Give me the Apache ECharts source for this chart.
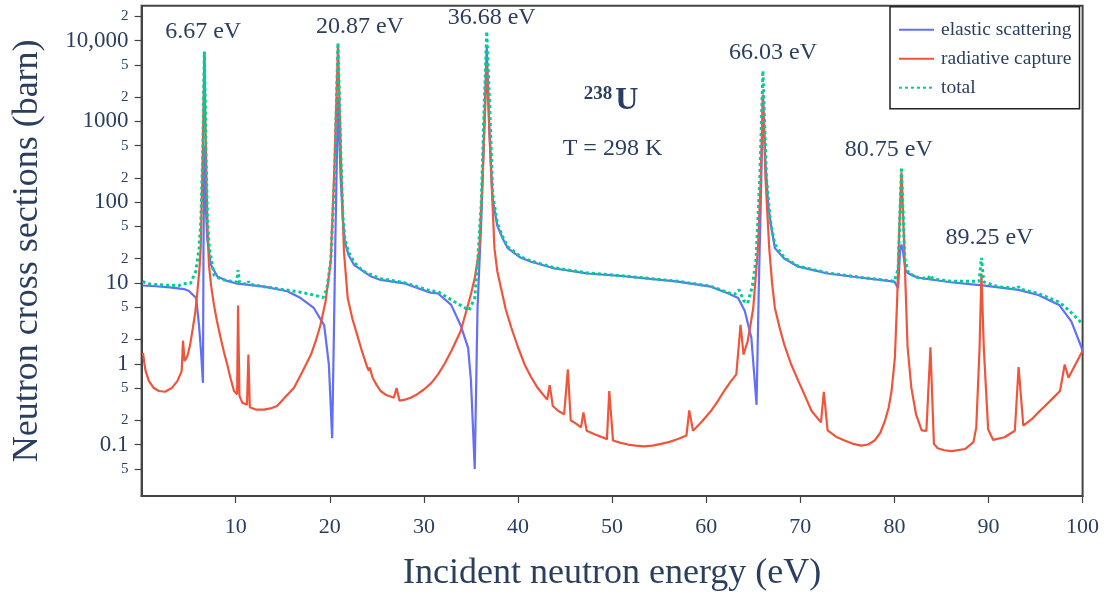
<!DOCTYPE html>
<html><head><meta charset="utf-8">
<script src="https://cdn.jsdelivr.net/npm/echarts@6/dist/echarts.min.js"></script>
<style>html,body{margin:0;padding:0;background:#fff}#c{width:1105px;height:597px}</style>
</head><body><div id="c"></div>
<script>
// ---- data (energies in eV, cross sections in barn) ----
const elasticE = [0.1,1.5,3.0,4.5,5.0,5.3,5.8,6.1,6.3,6.52,6.58,6.67,6.8,6.98,7.34,8.05,9.0,10.0,13.0,15.5,16.9,18.3,19.4,19.9,20.25,20.45,20.6,20.87,21.15,21.4,21.6,22.0,22.6,24.4,25.4,27.9,30.7,31.5,32.9,33.9,34.7,35.0,35.4,35.7,36.1,36.4,36.68,36.95,37.3,37.8,38.4,38.9,39.3,40.3,41.4,43.9,47.4,51.0,57.0,60.5,62.3,63.4,64.1,64.8,65.1,65.35,65.6,65.8,66.03,66.3,66.6,66.9,67.3,68.3,69.8,72.9,76.5,80.0,80.4,80.6,80.75,80.9,81.2,81.5,82.5,86.0,89.6,93.2,95.3,97.5,98.8,99.9,100.0];
const elasticXS = [9.3,9.1,8.8,8.4,8.0,7.4,6.5,3.0,1.5,0.58,30,500,100,35,17,12,10.7,9.9,9.0,7.9,6.5,4.9,3.0,0.98,0.12,3,40,2000,200,60,32,22,16.6,12.0,10.9,9.9,7.6,7.4,5.35,3.0,1.57,0.62,0.05,5,60,800,8300,800,110,51,35,27,25,20.5,18.3,15.1,13.1,12.2,10.4,9.0,7.45,6.5,4.5,2.1,0.74,0.31,10,100,2100,300,90,51,27,20,15.9,13.1,11.6,10.4,8.6,25,30,25,14,13.1,11.6,10.2,9.26,8.2,7.1,5.35,3.34,1.57,1.35];

const captureE = [0.15,0.3,0.43,0.78,1.3,1.84,2.5,3.2,3.8,4.26,4.4,4.57,4.86,5.15,5.39,5.7,5.93,6.15,6.28,6.5,6.67,6.85,7.0,7.16,7.4,7.69,8.0,8.4,8.75,9.1,9.45,9.82,10.15,10.25,10.4,10.7,11.2,11.35,11.5,12.2,13.0,13.7,14.4,15.3,16.2,17.1,18.0,18.5,19.0,19.55,19.75,20.1,20.5,20.87,21.2,21.5,21.9,22.4,22.9,23.4,24.0,24.15,24.25,24.55,25.0,25.4,26.0,26.8,27.1,27.4,28.0,28.6,29.3,30.0,30.8,31.5,32.2,32.9,33.4,33.9,34.6,35.0,35.4,35.9,36.3,36.68,37.1,37.5,37.8,38.2,38.7,39.3,40.0,40.7,41.4,42.1,43.1,43.37,43.7,44.3,44.9,45.3,45.6,46.2,46.7,46.95,47.3,48.2,49.2,49.45,49.7,50.1,50.9,51.7,52.5,53.4,54.3,55.2,56.1,57.0,57.9,58.2,58.6,59.5,60.5,61.2,61.9,62.6,63.2,63.65,63.97,64.4,64.7,65.0,65.5,65.8,66.03,66.3,66.7,67.0,67.3,67.8,68.3,69.0,69.8,70.5,71.2,72.2,72.5,72.9,73.8,74.7,75.6,76.5,77.2,77.9,78.5,79.0,79.4,79.7,80.05,80.3,80.5,80.75,81.0,81.2,81.4,81.8,82.3,82.9,83.4,83.83,84.2,84.6,85.3,86.1,87.5,88.4,88.7,89.05,89.25,89.5,89.96,90.5,91.7,92.8,93.2,93.7,94.6,95.3,96.0,96.8,97.6,98.1,98.5,100.0];
const captureXS = [1.36,1.0,0.81,0.61,0.5,0.46,0.45,0.5,0.61,0.81,1.93,1.08,1.24,1.7,2.52,4.3,7.8,15,26.6,400,7000,300,50,16.6,9,5.35,3.4,2.08,1.4,0.98,0.66,0.46,0.42,5.25,0.40,0.33,0.31,1.30,0.29,0.27,0.27,0.28,0.30,0.39,0.505,0.8,1.3,1.9,3.0,5.9,5.9,18.3,300,8500,300,25,6.5,3.6,2.29,1.45,0.89,0.82,0.9,0.67,0.54,0.46,0.41,0.38,0.50,0.35,0.36,0.38,0.42,0.48,0.58,0.74,1.0,1.43,1.9,2.52,4.9,7.3,11.4,26.6,300,5300,300,26.6,14,8.6,4.7,2.77,1.6,0.98,0.68,0.50,0.36,0.545,0.30,0.26,0.237,0.85,0.20,0.18,0.163,0.25,0.148,0.133,0.12,0.116,0.46,0.112,0.105,0.100,0.097,0.095,0.097,0.102,0.108,0.117,0.129,0.265,0.148,0.19,0.26,0.34,0.46,0.6,0.74,3.04,1.30,1.90,3.0,4.9,26.6,200,2150,200,26.6,10,4.9,2.8,1.72,1.0,0.61,0.4,0.26,0.188,0.45,0.15,0.125,0.112,0.102,0.097,0.1,0.112,0.14,0.197,0.29,0.46,1.18,6.5,40,235,40,8,1.6,0.505,0.237,0.15,0.148,1.6,0.102,0.09,0.085,0.083,0.088,0.107,0.163,1.57,13.1,1.57,0.155,0.114,0.123,0.148,0.91,0.171,0.206,0.25,0.30,0.37,0.46,0.98,0.67,1.45];

const totalE = [0.1,1.0,2.5,4.0,4.4,4.6,5.2,5.75,6.1,6.3,6.5,6.67,6.85,7.0,7.2,7.7,8.5,9.5,10.1,10.25,10.4,11.2,11.35,11.5,13.0,15.0,16.6,18.3,19.3,19.7,20.1,20.5,20.87,21.2,21.4,21.6,22.0,22.6,23.5,25.4,27.9,30.7,31.5,33.2,34.0,34.8,35.4,35.7,36.1,36.4,36.68,37.0,37.3,37.8,38.4,38.9,39.3,40.3,41.4,43.9,47.4,51.0,57.0,60.5,62.3,63.0,63.5,64.0,64.4,64.9,65.3,65.7,66.03,66.4,66.8,67.3,68.3,69.8,72.9,76.5,80.0,80.4,80.75,81.1,81.5,82.5,83.6,83.8,84.1,86.0,89.0,89.25,89.5,91.0,93.0,93.2,93.4,95.3,97.5,98.1,98.8,99.9];
const totalXS = [10.4,9.6,9.4,9.3,9.8,9.4,9.9,13.8,26,60,400,7300,400,60,27,12.5,11.0,10.5,10.3,14.4,10.2,9.6,10.5,9.6,9.0,8.3,7.8,7.1,6.6,8.6,19,200,9400,300,65,35,24,18,14,11.3,10.1,8.0,7.8,5.9,5.2,4.6,6.5,17,100,1500,13000,1500,130,55,37,28,26,21,18.7,15.4,13.3,12.3,10.5,9.1,7.6,7.2,8.2,6.0,5.6,9,20,200,4240,200,60,30,20.5,16.1,13.3,11.7,10.5,15,272,20,13.2,11.7,11.3,12.5,11.2,10.5,10.5,20.5,10.3,9.0,8.5,9.0,8.4,7.4,5.8,5.1,4.3,3.2];

// axis ticks
const xTickValues = [10,20,30,40,50,60,70,80,90,100];
const yTickValues = [0.05,0.1,0.2,0.5,1,2,5,10,20,50,100,200,500,1000,2000,5000,10000,20000];
const yTickLabels = ['5','0.1','2','5','1','2','5','10','2','5','100','2','5','1000','2','5','10,000','2'];
const yTickMajor  = [false,true,false,false,true,false,false,true,false,false,true,false,false,true,false,false,true,false];

// annotations
const noteTexts = ['6.67 eV','20.87 eV','36.68 eV','66.03 eV','80.75 eV','89.25 eV','T = 298 K'];
const noteE = [6.54,23.2,37.2,67.1,79.4,90.1,50.04];
const noteXS = [12800,14760,19060,7060,449,36.5,462];
const isotopeMass = '238', isotopeSymbol = 'U';
const isotopeE = 49.9, isotopeXS = 1805;

const legendNames = ['elastic scattering','radiative capture','total'];

// ---- chart ----
const FONT = '"Liberation Serif", "Times New Roman", serif';
const TXT = '#2a3f5f';
const lg = Math.log10;
const pairs = (E, V) => E.map((e, i) => [e, lg(V[i])]);
const yMin = -1.637, yMax = 4.432;

const chart = echarts.init(document.getElementById('c'), null, {renderer: 'canvas'});
const noteData = noteTexts.map((t, i) => ({value: [noteE[i], lg(noteXS[i])], label: {formatter: t}}));
noteData.push({value: [isotopeE, lg(isotopeXS)], label: {formatter: '{sup|' + isotopeMass + '}{u|' + isotopeSymbol + '}'}});

chart.setOption({
  animation: false,
  backgroundColor: '#fff',
  textStyle: {fontFamily: FONT, color: TXT},
  grid: {left: 141.6, top: 5.7, width: 941, height: 492, show: true, borderColor: '#444', borderWidth: 2, backgroundColor: 'transparent'},
  legend: {
    data: legendNames, orient: 'vertical', left: 890, top: 6.7,
    itemWidth: 35, itemHeight: 14, itemGap: 9,
    padding: [13, 8, 11, 8],
    itemStyle: {opacity: 0},
    backgroundColor: '#fff', borderColor: '#222', borderWidth: 1.5, borderRadius: 0,
    textStyle: {fontFamily: FONT, fontSize: 19.5, color: TXT, padding: [0, 0, 0, 2]}
  },
  xAxis: {
    type: 'value', min: 0, max: 100,
    name: 'Incident neutron energy (eV)', nameLocation: 'middle', nameGap: 60,
    nameTextStyle: {fontFamily: FONT, fontSize: 36, color: TXT},
    axisLine: {show: true, onZero: false, lineStyle: {color: '#444', width: 2}},
    axisTick: {show: true, inside: false, length: 7, customValues: xTickValues, lineStyle: {color: '#444', width: 1.2}},
    axisLabel: {customValues: xTickValues, fontFamily: FONT, fontSize: 22, color: TXT, margin: 20},
    splitLine: {show: false}
  },
  yAxis: {
    type: 'value', min: yMin, max: yMax,
    name: 'Neutron cross sections (barn)', nameLocation: 'middle', nameGap: 96, nameRotate: 90,
    nameTextStyle: {fontFamily: FONT, fontSize: 36, color: TXT},
    axisLine: {show: true, onZero: false, lineStyle: {color: '#444', width: 2}},
    axisTick: {show: true, inside: false, length: 7, customValues: yTickValues.map(lg), lineStyle: {color: '#444', width: 1.2}},
    axisLabel: {
      customValues: yTickValues.map(lg), margin: 13,
      formatter: function (v) {
        let idx = 0, best = 1e9;
        yTickValues.forEach((t, i) => { const d = Math.abs(lg(t) - v); if (d < best) { best = d; idx = i; } });
        return (yTickMajor[idx] ? '{big|' : '{small|') + yTickLabels[idx] + '}';
      },
      rich: {
        big: {fontFamily: FONT, fontSize: 23, color: TXT},
        small: {fontFamily: FONT, fontSize: 15, color: TXT}
      }
    },
    splitLine: {show: false}
  },
  series: [
    {name: legendNames[0], type: 'line', data: pairs(elasticE, elasticXS), symbol: 'none', color: '#636efa',
     lineStyle: {color: '#636efa', width: 2.2}, z: 2},
    {name: legendNames[1], type: 'line', data: pairs(captureE, captureXS), symbol: 'none', color: '#ef553b',
     lineStyle: {color: '#ef553b', width: 2.2}, z: 3},
    {name: legendNames[2], type: 'line', data: pairs(totalE, totalXS), symbol: 'none', color: '#00cc96',
     lineStyle: {color: '#00cc96', width: 3, type: [3, 3]}, z: 4},
    {name: 'notes', type: 'scatter', data: noteData, symbolSize: 0, silent: true, z: 10,
     itemStyle: {color: 'rgba(0,0,0,0)'},
     label: {show: true, position: 'inside', fontFamily: FONT, fontSize: 24, color: TXT,
       textBorderWidth: 0, textBorderColor: 'transparent', opacity: 1,
       rich: {
         sup: {fontFamily: FONT, fontSize: 19, fontWeight: 'bold', color: TXT, padding: [0, 3, 14, 0], textBorderWidth: 0},
         u: {fontFamily: FONT, fontSize: 32, fontWeight: 'bold', color: TXT, textBorderWidth: 0}
       }}}
  ]
});
</script>
</body></html>
